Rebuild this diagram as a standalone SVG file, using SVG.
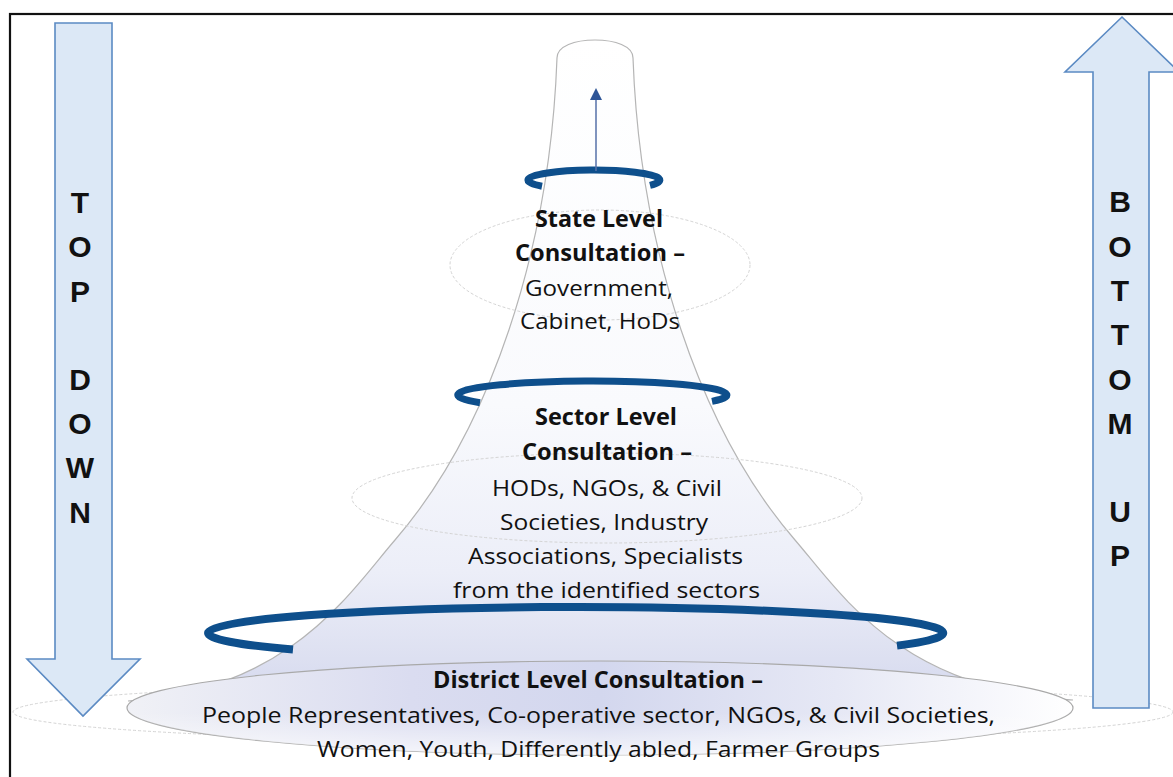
<svg xmlns="http://www.w3.org/2000/svg" width="1173" height="777" viewBox="0 0 1173 777">
<defs>
<linearGradient id="coneGrad" gradientUnits="userSpaceOnUse" x1="0" y1="40" x2="0" y2="705">
<stop offset="0" stop-color="#ffffff"/>
<stop offset="0.55" stop-color="#f9fafd"/>
<stop offset="0.8" stop-color="#eceef8"/>
<stop offset="0.93" stop-color="#dde0f1"/>
<stop offset="1" stop-color="#d3d7ee"/>
</linearGradient>
<linearGradient id="baseGrad" gradientUnits="userSpaceOnUse" x1="128" y1="0" x2="1073" y2="0">
<stop offset="0" stop-color="#f0f1f6"/>
<stop offset="0.3" stop-color="#dadcf0"/>
<stop offset="0.5" stop-color="#d3d7ee"/>
<stop offset="0.75" stop-color="#e6e8f5"/>
<stop offset="1" stop-color="#ffffff"/>
</linearGradient>
<linearGradient id="baseShade" x1="0" y1="0" x2="0" y2="1">
<stop offset="0" stop-color="#ffffff" stop-opacity="0"/>
<stop offset="0.55" stop-color="#ffffff" stop-opacity="0"/>
<stop offset="1" stop-color="#ffffff" stop-opacity="0.75"/>
</linearGradient>
<marker id="ah" viewBox="0 0 12 12" markerWidth="12" markerHeight="12" refX="0" refY="6" orient="auto" markerUnits="userSpaceOnUse">
<path d="M0,0 L12,6 L0,12 Z" fill="#2f5597"/>
</marker>
</defs>
<style>
.bigarrow{fill:#dce8f6;stroke:#5b8ac3;stroke-width:1.6}
.vl{font-family:"Liberation Sans",Arial,sans-serif;font-weight:bold;font-size:30px;fill:#111111;text-anchor:middle}
.t{font-family:"Open Sans","Noto Sans",sans-serif;font-size:22.5px;fill:#111111;text-anchor:middle}
.b{font-weight:bold}
.ring{fill:none;stroke:#0e4f8c;stroke-width:7}
.faint{fill:none;stroke:#d4d4d4;stroke-width:1;stroke-dasharray:3 2}
</style>
<rect x="0" y="0" width="1173" height="777" fill="#ffffff"/>
<rect id="frame" x="10" y="14" width="1200" height="800" fill="none" stroke="#111111" stroke-width="2.2"/>

<g id="cone">
<ellipse class="faint" cx="593" cy="712" rx="580" ry="30"/>
<path d="M128,701 C290,690 350,592 395,540 C490,430 550,250 557,58 C557,46 575,40 595,40 C615,40 633,46 633,58 C640,250 700,430 795,540 C840,592 900,690 1073,700 Z" fill="url(#coneGrad)" stroke="#b5b5b5" stroke-width="1.2"/>
<ellipse class="faint" cx="600" cy="265" rx="150" ry="55"/>
<ellipse class="faint" cx="607" cy="498" rx="255" ry="45"/>
</g>

<g id="district-level">
<ellipse cx="600" cy="708" rx="473" ry="47" fill="url(#baseGrad)" stroke="#a9a9a9" stroke-width="1.2"/>
<ellipse cx="600" cy="708" rx="473" ry="47" fill="url(#baseShade)"/>
<text class="t b" x="598" y="688" textLength="330" lengthAdjust="spacingAndGlyphs">District Level Consultation –</text>
<text class="t" x="598.5" y="723" textLength="793" lengthAdjust="spacingAndGlyphs">People Representatives, Co-operative sector, NGOs, &amp; Civil Societies,</text>
<text class="t" x="598.5" y="757" textLength="563" lengthAdjust="spacingAndGlyphs">Women, Youth, Differently abled, Farmer Groups</text>
</g>

<g id="rings">
<path class="ring" d="M542,186.2 A66,10 0 1 1 650,185.3"/>
<path class="ring" d="M480,402.7 A134.5,14 0 1 1 712,401.4"/>
<path class="ring" style="stroke-width:8" d="M293,649.6 A367.5,26 0 1 1 897,645.6"/>
</g>

<g id="connectors">
<line x1="596" y1="171" x2="596" y2="100" stroke="#5670a8" stroke-width="1.5" marker-end="url(#ah)"/>
</g>

<g id="state-level">
<text class="t b" x="599" y="227" textLength="128" lengthAdjust="spacingAndGlyphs">State Level</text>
<text class="t b" x="600" y="261" textLength="170" lengthAdjust="spacingAndGlyphs">Consultation –</text>
<text class="t" x="599" y="296" textLength="148" lengthAdjust="spacingAndGlyphs">Government,</text>
<text class="t" x="600" y="329" textLength="160" lengthAdjust="spacingAndGlyphs">Cabinet, HoDs</text>
</g>

<g id="sector-level">
<text class="t b" x="606" y="425" textLength="142" lengthAdjust="spacingAndGlyphs">Sector Level</text>
<text class="t b" x="607" y="460" textLength="170" lengthAdjust="spacingAndGlyphs">Consultation –</text>
<text class="t" x="607" y="496" textLength="230" lengthAdjust="spacingAndGlyphs">HODs, NGOs, &amp; Civil</text>
<text class="t" x="604" y="530" textLength="208" lengthAdjust="spacingAndGlyphs">Societies, Industry</text>
<text class="t" x="605.5" y="564" textLength="275" lengthAdjust="spacingAndGlyphs">Associations, Specialists</text>
<text class="t" x="606.5" y="598" textLength="307" lengthAdjust="spacingAndGlyphs">from the identified sectors</text>
</g>

<g id="top-down">
<polygon class="bigarrow" points="55,23 112,23 112,659 140,659 83,716 27,659 55,659"/>
<text class="vl" x="80" y="213">T</text>
<text class="vl" x="80" y="257">O</text>
<text class="vl" x="80" y="302">P</text>
<text class="vl" x="80" y="390">D</text>
<text class="vl" x="80" y="434">O</text>
<text class="vl" x="80" y="478">W</text>
<text class="vl" x="80" y="523">N</text>
</g>

<g id="bottom-up">
<polygon class="bigarrow" points="1122,17 1179,72 1149,72 1149,708 1093,708 1093,72 1065,72"/>
<text class="vl" x="1120" y="212">B</text>
<text class="vl" x="1120" y="257">O</text>
<text class="vl" x="1120" y="301">T</text>
<text class="vl" x="1120" y="345">T</text>
<text class="vl" x="1120" y="390">O</text>
<text class="vl" x="1120" y="434">M</text>
<text class="vl" x="1120" y="522">U</text>
<text class="vl" x="1120" y="566">P</text>
</g>
</svg>
